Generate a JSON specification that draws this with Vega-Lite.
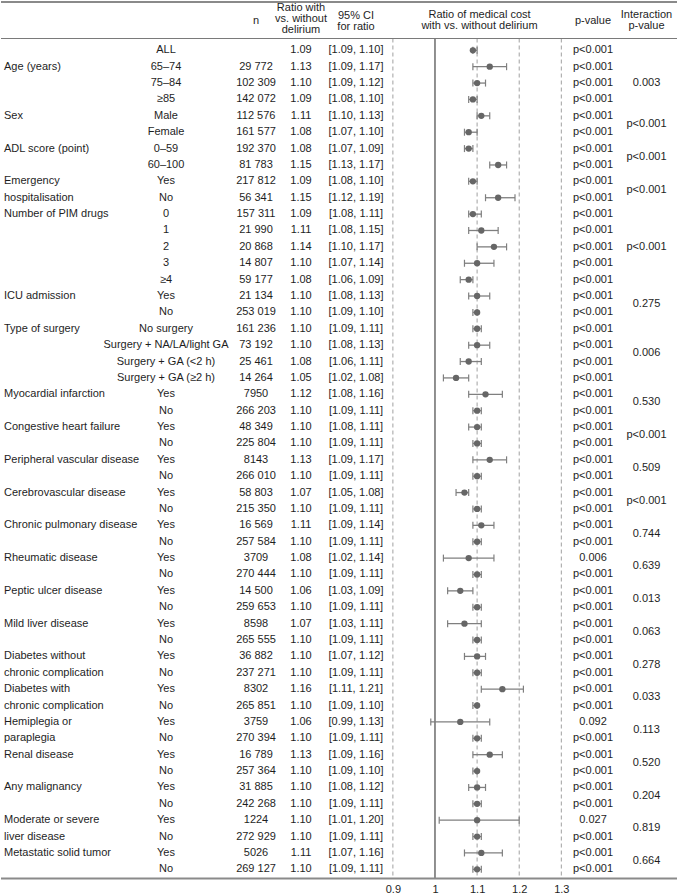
{
  "$schema": "https://vega.github.io/schema/vega-lite/v6.json",
  "padding": 0,
  "background": "white",
  "spacing": 0,
  "bounds": "flush",
  "config": {
    "view": {"stroke": null},
    "text": {"font": "Liberation Sans", "fontSize": 11, "color": "#1e1e1e", "baseline": "middle"},
    "axis": {"domain": false, "ticks": false, "grid": false, "labelFont": "Liberation Sans", "labelFontSize": 11, "labelColor": "#1e1e1e", "labelPadding": 4, "title": null}
  },
  "datasets": {
    "rows": [
      {"row": 0, "lab": null, "sub": "ALL", "n": null, "r": 1.09, "ci": "[1.09, 1.10]", "lo": 1.09, "hi": 1.10, "p": "p<0.001", "g": "ALL", "ip": null},
      {"row": 1, "lab": "Age (years)", "sub": "65–74", "n": "29 772", "r": 1.13, "ci": "[1.09, 1.17]", "lo": 1.09, "hi": 1.17, "p": "p<0.001", "g": "age", "ip": "0.003"},
      {"row": 2, "lab": null, "sub": "75–84", "n": "102 309", "r": 1.10, "ci": "[1.09, 1.12]", "lo": 1.09, "hi": 1.12, "p": "p<0.001", "g": "age", "ip": "0.003"},
      {"row": 3, "lab": null, "sub": "≥85", "n": "142 072", "r": 1.09, "ci": "[1.08, 1.10]", "lo": 1.08, "hi": 1.10, "p": "p<0.001", "g": "age", "ip": "0.003"},
      {"row": 4, "lab": "Sex", "sub": "Male", "n": "112 576", "r": 1.11, "ci": "[1.10, 1.13]", "lo": 1.10, "hi": 1.13, "p": "p<0.001", "g": "sex", "ip": "p<0.001"},
      {"row": 5, "lab": null, "sub": "Female", "n": "161 577", "r": 1.08, "ci": "[1.07, 1.10]", "lo": 1.07, "hi": 1.10, "p": "p<0.001", "g": "sex", "ip": "p<0.001"},
      {"row": 6, "lab": "ADL score (point)", "sub": "0–59", "n": "192 370", "r": 1.08, "ci": "[1.07, 1.09]", "lo": 1.07, "hi": 1.09, "p": "p<0.001", "g": "adl", "ip": "p<0.001"},
      {"row": 7, "lab": null, "sub": "60–100", "n": "81 783", "r": 1.15, "ci": "[1.13, 1.17]", "lo": 1.13, "hi": 1.17, "p": "p<0.001", "g": "adl", "ip": "p<0.001"},
      {"row": 8, "lab": "Emergency", "sub": "Yes", "n": "217 812", "r": 1.09, "ci": "[1.08, 1.10]", "lo": 1.08, "hi": 1.10, "p": "p<0.001", "g": "emerg", "ip": "p<0.001"},
      {"row": 9, "lab": "hospitalisation", "sub": "No", "n": "56 341", "r": 1.15, "ci": "[1.12, 1.19]", "lo": 1.12, "hi": 1.19, "p": "p<0.001", "g": "emerg", "ip": "p<0.001"},
      {"row": 10, "lab": "Number of PIM drugs", "sub": "0", "n": "157 311", "r": 1.09, "ci": "[1.08, 1.11]", "lo": 1.08, "hi": 1.11, "p": "p<0.001", "g": "pim", "ip": "p<0.001"},
      {"row": 11, "lab": null, "sub": "1", "n": "21 990", "r": 1.11, "ci": "[1.08, 1.15]", "lo": 1.08, "hi": 1.15, "p": "p<0.001", "g": "pim", "ip": "p<0.001"},
      {"row": 12, "lab": null, "sub": "2", "n": "20 868", "r": 1.14, "ci": "[1.10, 1.17]", "lo": 1.10, "hi": 1.17, "p": "p<0.001", "g": "pim", "ip": "p<0.001"},
      {"row": 13, "lab": null, "sub": "3", "n": "14 807", "r": 1.10, "ci": "[1.07, 1.14]", "lo": 1.07, "hi": 1.14, "p": "p<0.001", "g": "pim", "ip": "p<0.001"},
      {"row": 14, "lab": null, "sub": "≥4", "n": "59 177", "r": 1.08, "ci": "[1.06, 1.09]", "lo": 1.06, "hi": 1.09, "p": "p<0.001", "g": "pim", "ip": "p<0.001"},
      {"row": 15, "lab": "ICU admission", "sub": "Yes", "n": "21 134", "r": 1.10, "ci": "[1.08, 1.13]", "lo": 1.08, "hi": 1.13, "p": "p<0.001", "g": "icu", "ip": "0.275"},
      {"row": 16, "lab": null, "sub": "No", "n": "253 019", "r": 1.10, "ci": "[1.09, 1.10]", "lo": 1.09, "hi": 1.10, "p": "p<0.001", "g": "icu", "ip": "0.275"},
      {"row": 17, "lab": "Type of surgery", "sub": "No surgery", "n": "161 236", "r": 1.10, "ci": "[1.09, 1.11]", "lo": 1.09, "hi": 1.11, "p": "p<0.001", "g": "surg", "ip": "0.006"},
      {"row": 18, "lab": null, "sub": "Surgery + NA/LA/light GA", "n": "73 192", "r": 1.10, "ci": "[1.08, 1.13]", "lo": 1.08, "hi": 1.13, "p": "p<0.001", "g": "surg", "ip": "0.006"},
      {"row": 19, "lab": null, "sub": "Surgery + GA (<2 h)", "n": "25 461", "r": 1.08, "ci": "[1.06, 1.11]", "lo": 1.06, "hi": 1.11, "p": "p<0.001", "g": "surg", "ip": "0.006"},
      {"row": 20, "lab": null, "sub": "Surgery + GA (≥2 h)", "n": "14 264", "r": 1.05, "ci": "[1.02, 1.08]", "lo": 1.02, "hi": 1.08, "p": "p<0.001", "g": "surg", "ip": "0.006"},
      {"row": 21, "lab": "Myocardial infarction", "sub": "Yes", "n": "7950", "r": 1.12, "ci": "[1.08, 1.16]", "lo": 1.08, "hi": 1.16, "p": "p<0.001", "g": "mi", "ip": "0.530"},
      {"row": 22, "lab": null, "sub": "No", "n": "266 203", "r": 1.10, "ci": "[1.09, 1.11]", "lo": 1.09, "hi": 1.11, "p": "p<0.001", "g": "mi", "ip": "0.530"},
      {"row": 23, "lab": "Congestive heart failure", "sub": "Yes", "n": "48 349", "r": 1.10, "ci": "[1.08, 1.11]", "lo": 1.08, "hi": 1.11, "p": "p<0.001", "g": "chf", "ip": "p<0.001"},
      {"row": 24, "lab": null, "sub": "No", "n": "225 804", "r": 1.10, "ci": "[1.09, 1.11]", "lo": 1.09, "hi": 1.11, "p": "p<0.001", "g": "chf", "ip": "p<0.001"},
      {"row": 25, "lab": "Peripheral vascular disease", "sub": "Yes", "n": "8143", "r": 1.13, "ci": "[1.09, 1.17]", "lo": 1.09, "hi": 1.17, "p": "p<0.001", "g": "pvd", "ip": "0.509"},
      {"row": 26, "lab": null, "sub": "No", "n": "266 010", "r": 1.10, "ci": "[1.09, 1.11]", "lo": 1.09, "hi": 1.11, "p": "p<0.001", "g": "pvd", "ip": "0.509"},
      {"row": 27, "lab": "Cerebrovascular disease", "sub": "Yes", "n": "58 803", "r": 1.07, "ci": "[1.05, 1.08]", "lo": 1.05, "hi": 1.08, "p": "p<0.001", "g": "cvd", "ip": "p<0.001"},
      {"row": 28, "lab": null, "sub": "No", "n": "215 350", "r": 1.10, "ci": "[1.09, 1.11]", "lo": 1.09, "hi": 1.11, "p": "p<0.001", "g": "cvd", "ip": "p<0.001"},
      {"row": 29, "lab": "Chronic pulmonary disease", "sub": "Yes", "n": "16 569", "r": 1.11, "ci": "[1.09, 1.14]", "lo": 1.09, "hi": 1.14, "p": "p<0.001", "g": "cpd", "ip": "0.744"},
      {"row": 30, "lab": null, "sub": "No", "n": "257 584", "r": 1.10, "ci": "[1.09, 1.11]", "lo": 1.09, "hi": 1.11, "p": "p<0.001", "g": "cpd", "ip": "0.744"},
      {"row": 31, "lab": "Rheumatic disease", "sub": "Yes", "n": "3709", "r": 1.08, "ci": "[1.02, 1.14]", "lo": 1.02, "hi": 1.14, "p": "0.006", "g": "rheum", "ip": "0.639"},
      {"row": 32, "lab": null, "sub": "No", "n": "270 444", "r": 1.10, "ci": "[1.09, 1.11]", "lo": 1.09, "hi": 1.11, "p": "p<0.001", "g": "rheum", "ip": "0.639"},
      {"row": 33, "lab": "Peptic ulcer disease", "sub": "Yes", "n": "14 500", "r": 1.06, "ci": "[1.03, 1.09]", "lo": 1.03, "hi": 1.09, "p": "p<0.001", "g": "peptic", "ip": "0.013"},
      {"row": 34, "lab": null, "sub": "No", "n": "259 653", "r": 1.10, "ci": "[1.09, 1.11]", "lo": 1.09, "hi": 1.11, "p": "p<0.001", "g": "peptic", "ip": "0.013"},
      {"row": 35, "lab": "Mild liver disease", "sub": "Yes", "n": "8598", "r": 1.07, "ci": "[1.03, 1.11]", "lo": 1.03, "hi": 1.11, "p": "p<0.001", "g": "mld", "ip": "0.063"},
      {"row": 36, "lab": null, "sub": "No", "n": "265 555", "r": 1.10, "ci": "[1.09, 1.11]", "lo": 1.09, "hi": 1.11, "p": "p<0.001", "g": "mld", "ip": "0.063"},
      {"row": 37, "lab": "Diabetes without", "sub": "Yes", "n": "36 882", "r": 1.10, "ci": "[1.07, 1.12]", "lo": 1.07, "hi": 1.12, "p": "p<0.001", "g": "dwo", "ip": "0.278"},
      {"row": 38, "lab": "chronic complication", "sub": "No", "n": "237 271", "r": 1.10, "ci": "[1.09, 1.11]", "lo": 1.09, "hi": 1.11, "p": "p<0.001", "g": "dwo", "ip": "0.278"},
      {"row": 39, "lab": "Diabetes with", "sub": "Yes", "n": "8302", "r": 1.16, "ci": "[1.11, 1.21]", "lo": 1.11, "hi": 1.21, "p": "p<0.001", "g": "dw", "ip": "0.033"},
      {"row": 40, "lab": "chronic complication", "sub": "No", "n": "265 851", "r": 1.10, "ci": "[1.09, 1.10]", "lo": 1.09, "hi": 1.10, "p": "p<0.001", "g": "dw", "ip": "0.033"},
      {"row": 41, "lab": "Hemiplegia or", "sub": "Yes", "n": "3759", "r": 1.06, "ci": "[0.99, 1.13]", "lo": 0.99, "hi": 1.13, "p": "0.092", "g": "hemi", "ip": "0.113"},
      {"row": 42, "lab": "paraplegia", "sub": "No", "n": "270 394", "r": 1.10, "ci": "[1.09, 1.11]", "lo": 1.09, "hi": 1.11, "p": "p<0.001", "g": "hemi", "ip": "0.113"},
      {"row": 43, "lab": "Renal disease", "sub": "Yes", "n": "16 789", "r": 1.13, "ci": "[1.09, 1.16]", "lo": 1.09, "hi": 1.16, "p": "p<0.001", "g": "renal", "ip": "0.520"},
      {"row": 44, "lab": null, "sub": "No", "n": "257 364", "r": 1.10, "ci": "[1.09, 1.10]", "lo": 1.09, "hi": 1.10, "p": "p<0.001", "g": "renal", "ip": "0.520"},
      {"row": 45, "lab": "Any malignancy", "sub": "Yes", "n": "31 885", "r": 1.10, "ci": "[1.08, 1.12]", "lo": 1.08, "hi": 1.12, "p": "p<0.001", "g": "malig", "ip": "0.204"},
      {"row": 46, "lab": null, "sub": "No", "n": "242 268", "r": 1.10, "ci": "[1.09, 1.11]", "lo": 1.09, "hi": 1.11, "p": "p<0.001", "g": "malig", "ip": "0.204"},
      {"row": 47, "lab": "Moderate or severe", "sub": "Yes", "n": "1224", "r": 1.10, "ci": "[1.01, 1.20]", "lo": 1.01, "hi": 1.20, "p": "0.027", "g": "msld", "ip": "0.819"},
      {"row": 48, "lab": "liver disease", "sub": "No", "n": "272 929", "r": 1.10, "ci": "[1.09, 1.11]", "lo": 1.09, "hi": 1.11, "p": "p<0.001", "g": "msld", "ip": "0.819"},
      {"row": 49, "lab": "Metastatic solid tumor", "sub": "Yes", "n": "5026", "r": 1.11, "ci": "[1.07, 1.16]", "lo": 1.07, "hi": 1.16, "p": "p<0.001", "g": "meta", "ip": "0.664"},
      {"row": 50, "lab": null, "sub": "No", "n": "269 127", "r": 1.10, "ci": "[1.09, 1.11]", "lo": 1.09, "hi": 1.11, "p": "p<0.001", "g": "meta", "ip": "0.664"}
    ],
    "refs": [{"v": 0.9}, {"v": 1.1}, {"v": 1.2}, {"v": 1.3}]
  },
  "hconcat": [
    {
      "width": 97, "height": 878,
      "data": {"name": "rows"},
      "layer": [
        {"transform": [{"filter": "datum.lab != null"}],
         "mark": {"type": "text", "align": "left", "dx": 3},
         "encoding": {
           "x": {"datum": 0, "type": "quantitative", "scale": {"domain": [0, 1]}, "axis": null},
           "y": {"field": "row", "type": "quantitative", "scale": {"domain": [-3.01, 50.59], "reverse": true, "nice": false, "zero": false}, "axis": null},
           "text": {"field": "lab"}}},
        {"data": {"values": [{}]}, "mark": {"type": "rule", "color": "#8a8a8a", "strokeWidth": 2}, "encoding": {"y": {"datum": -2.95, "type": "quantitative"}}},
        {"data": {"values": [{}]}, "mark": {"type": "rule", "color": "#7a7a7a", "strokeWidth": 1}, "encoding": {"y": {"datum": -0.72, "type": "quantitative"}}},
        {"data": {"values": [{}]}, "mark": {"type": "rule", "color": "#8a8a8a", "strokeWidth": 2}, "encoding": {"y": {"datum": 50.56, "type": "quantitative"}}}
      ]
    },
    {
      "width": 136, "height": 878,
      "data": {"name": "rows"},
      "layer": [
        {"mark": {"type": "text", "align": "center"},
         "encoding": {
           "y": {"field": "row", "type": "quantitative", "scale": {"domain": [-3.01, 50.59], "reverse": true, "nice": false, "zero": false}, "axis": null},
           "text": {"field": "sub"}}},
        {"data": {"values": [{}]}, "mark": {"type": "rule", "color": "#8a8a8a", "strokeWidth": 2}, "encoding": {"y": {"datum": -2.95, "type": "quantitative"}}},
        {"data": {"values": [{}]}, "mark": {"type": "rule", "color": "#7a7a7a", "strokeWidth": 1}, "encoding": {"y": {"datum": -0.72, "type": "quantitative"}}},
        {"data": {"values": [{}]}, "mark": {"type": "rule", "color": "#8a8a8a", "strokeWidth": 2}, "encoding": {"y": {"datum": 50.56, "type": "quantitative"}}}
      ]
    },
    {
      "width": 44, "height": 878,
      "data": {"name": "rows"},
      "layer": [
        {"transform": [{"filter": "datum.n != null"}],
         "mark": {"type": "text", "align": "center"},
         "encoding": {
           "y": {"field": "row", "type": "quantitative", "scale": {"domain": [-3.01, 50.59], "reverse": true, "nice": false, "zero": false}, "axis": null},
           "text": {"field": "n"}}},
        {"data": {"values": [{"t": "n"}]}, "mark": {"type": "text", "align": "center"}, "encoding": {"y": {"datum": -1.8, "type": "quantitative"}, "text": {"field": "t"}}},
        {"data": {"values": [{}]}, "mark": {"type": "rule", "color": "#8a8a8a", "strokeWidth": 2}, "encoding": {"y": {"datum": -2.95, "type": "quantitative"}}},
        {"data": {"values": [{}]}, "mark": {"type": "rule", "color": "#7a7a7a", "strokeWidth": 1}, "encoding": {"y": {"datum": -0.72, "type": "quantitative"}}},
        {"data": {"values": [{}]}, "mark": {"type": "rule", "color": "#8a8a8a", "strokeWidth": 2}, "encoding": {"y": {"datum": 50.56, "type": "quantitative"}}}
      ]
    },
    {
      "width": 46, "height": 878,
      "data": {"name": "rows"},
      "layer": [
        {"mark": {"type": "text", "align": "center"},
         "encoding": {
           "y": {"field": "row", "type": "quantitative", "scale": {"domain": [-3.01, 50.59], "reverse": true, "nice": false, "zero": false}, "axis": null},
           "text": {"field": "r", "type": "quantitative", "format": ".2f"}}},
        {"data": {"values": [{"t": "Ratio with\nvs. without\ndelirium"}]}, "mark": {"type": "text", "align": "center", "lineBreak": "\n", "lineHeight": 11}, "encoding": {"y": {"datum": -2.56, "type": "quantitative"}, "text": {"field": "t"}}},
        {"data": {"values": [{}]}, "mark": {"type": "rule", "color": "#8a8a8a", "strokeWidth": 2}, "encoding": {"y": {"datum": -2.95, "type": "quantitative"}}},
        {"data": {"values": [{}]}, "mark": {"type": "rule", "color": "#7a7a7a", "strokeWidth": 1}, "encoding": {"y": {"datum": -0.72, "type": "quantitative"}}},
        {"data": {"values": [{}]}, "mark": {"type": "rule", "color": "#8a8a8a", "strokeWidth": 2}, "encoding": {"y": {"datum": 50.56, "type": "quantitative"}}}
      ]
    },
    {
      "width": 64, "height": 878,
      "data": {"name": "rows"},
      "layer": [
        {"mark": {"type": "text", "align": "center"},
         "encoding": {
           "y": {"field": "row", "type": "quantitative", "scale": {"domain": [-3.01, 50.59], "reverse": true, "nice": false, "zero": false}, "axis": null},
           "text": {"field": "ci"}}},
        {"data": {"values": [{"t": "95% CI\nfor ratio"}]}, "mark": {"type": "text", "align": "center", "lineBreak": "\n", "lineHeight": 11}, "encoding": {"y": {"datum": -2.09, "type": "quantitative"}, "text": {"field": "t"}}},
        {"data": {"values": [{}]}, "mark": {"type": "rule", "color": "#8a8a8a", "strokeWidth": 2}, "encoding": {"y": {"datum": -2.95, "type": "quantitative"}}},
        {"data": {"values": [{}]}, "mark": {"type": "rule", "color": "#7a7a7a", "strokeWidth": 1}, "encoding": {"y": {"datum": -0.72, "type": "quantitative"}}},
        {"data": {"values": [{}]}, "mark": {"type": "rule", "color": "#8a8a8a", "strokeWidth": 2}, "encoding": {"y": {"datum": 50.56, "type": "quantitative"}}}
      ]
    },
    {
      "width": 183, "height": 878,
      "data": {"name": "rows"},
      "layer": [
        {"data": {"name": "refs"},
         "mark": {"type": "rule", "color": "#a0a0a0", "strokeWidth": 1, "strokeDash": [4, 3]},
         "encoding": {
           "x": {"field": "v", "type": "quantitative", "scale": {"domain": [0.8884, 1.323], "nice": false, "zero": false}, "axis": {"values": [0.9, 1, 1.1, 1.2, 1.3], "format": "~g", "title": null}},
           "y": {"datum": -0.72, "type": "quantitative", "scale": {"domain": [-3.01, 50.59], "reverse": true, "nice": false, "zero": false}, "axis": null},
           "y2": {"datum": 50.56}}},
        {"data": {"values": [{}]},
         "mark": {"type": "rule", "color": "#222222", "strokeWidth": 1},
         "encoding": {
           "x": {"datum": 1, "type": "quantitative"},
           "y": {"datum": -0.72, "type": "quantitative"},
           "y2": {"datum": 50.56}}},
        {"mark": {"type": "rule", "color": "#7f7f7f", "strokeWidth": 1.3},
         "encoding": {
           "x": {"field": "lo", "type": "quantitative"},
           "x2": {"field": "hi"},
           "y": {"field": "row", "type": "quantitative"}}},
        {"mark": {"type": "tick", "orient": "vertical", "size": 7, "thickness": 1.2, "color": "#7f7f7f", "opacity": 1},
         "encoding": {
           "x": {"field": "lo", "type": "quantitative"},
           "y": {"field": "row", "type": "quantitative"}}},
        {"mark": {"type": "tick", "orient": "vertical", "size": 7, "thickness": 1.2, "color": "#7f7f7f", "opacity": 1},
         "encoding": {
           "x": {"field": "hi", "type": "quantitative"},
           "y": {"field": "row", "type": "quantitative"}}},
        {"mark": {"type": "circle", "size": 40, "color": "#666666", "opacity": 1},
         "encoding": {
           "x": {"field": "r", "type": "quantitative"},
           "y": {"field": "row", "type": "quantitative"}}},
        {"data": {"values": [{"t": "Ratio of medical cost\nwith vs. without delirium"}]}, "mark": {"type": "text", "align": "center", "lineBreak": "\n", "lineHeight": 11}, "encoding": {"y": {"datum": -2.15, "type": "quantitative"}, "text": {"field": "t"}}},
        {"data": {"values": [{}]}, "mark": {"type": "rule", "color": "#8a8a8a", "strokeWidth": 2}, "encoding": {"y": {"datum": -2.95, "type": "quantitative"}}},
        {"data": {"values": [{}]}, "mark": {"type": "rule", "color": "#7a7a7a", "strokeWidth": 1}, "encoding": {"y": {"datum": -0.72, "type": "quantitative"}}},
        {"data": {"values": [{}]}, "mark": {"type": "rule", "color": "#8a8a8a", "strokeWidth": 2}, "encoding": {"y": {"datum": 50.56, "type": "quantitative"}}}
      ]
    },
    {
      "width": 44, "height": 878,
      "data": {"name": "rows"},
      "layer": [
        {"mark": {"type": "text", "align": "center"},
         "encoding": {
           "y": {"field": "row", "type": "quantitative", "scale": {"domain": [-3.01, 50.59], "reverse": true, "nice": false, "zero": false}, "axis": null},
           "text": {"field": "p"}}},
        {"data": {"values": [{"t": "p-value"}]}, "mark": {"type": "text", "align": "center"}, "encoding": {"y": {"datum": -1.8, "type": "quantitative"}, "text": {"field": "t"}}},
        {"data": {"values": [{}]}, "mark": {"type": "rule", "color": "#8a8a8a", "strokeWidth": 2}, "encoding": {"y": {"datum": -2.95, "type": "quantitative"}}},
        {"data": {"values": [{}]}, "mark": {"type": "rule", "color": "#7a7a7a", "strokeWidth": 1}, "encoding": {"y": {"datum": -0.72, "type": "quantitative"}}},
        {"data": {"values": [{}]}, "mark": {"type": "rule", "color": "#8a8a8a", "strokeWidth": 2}, "encoding": {"y": {"datum": 50.56, "type": "quantitative"}}}
      ]
    },
    {
      "width": 63, "height": 878,
      "data": {"name": "rows"},
      "layer": [
        {"transform": [
           {"filter": "datum.ip != null"},
           {"aggregate": [{"op": "mean", "field": "row", "as": "row"}], "groupby": ["g", "ip"]}
         ],
         "mark": {"type": "text", "align": "center"},
         "encoding": {
           "y": {"field": "row", "type": "quantitative", "scale": {"domain": [-3.01, 50.59], "reverse": true, "nice": false, "zero": false}, "axis": null},
           "text": {"field": "ip"}}},
        {"data": {"values": [{"t": "Interaction\np-value"}]}, "mark": {"type": "text", "align": "center", "lineBreak": "\n", "lineHeight": 11}, "encoding": {"y": {"datum": -2.15, "type": "quantitative"}, "text": {"field": "t"}}},
        {"data": {"values": [{}]}, "mark": {"type": "rule", "color": "#8a8a8a", "strokeWidth": 2}, "encoding": {"y": {"datum": -2.95, "type": "quantitative"}}},
        {"data": {"values": [{}]}, "mark": {"type": "rule", "color": "#7a7a7a", "strokeWidth": 1}, "encoding": {"y": {"datum": -0.72, "type": "quantitative"}}},
        {"data": {"values": [{}]}, "mark": {"type": "rule", "color": "#8a8a8a", "strokeWidth": 2}, "encoding": {"y": {"datum": 50.56, "type": "quantitative"}}}
      ]
    }
  ]
}
